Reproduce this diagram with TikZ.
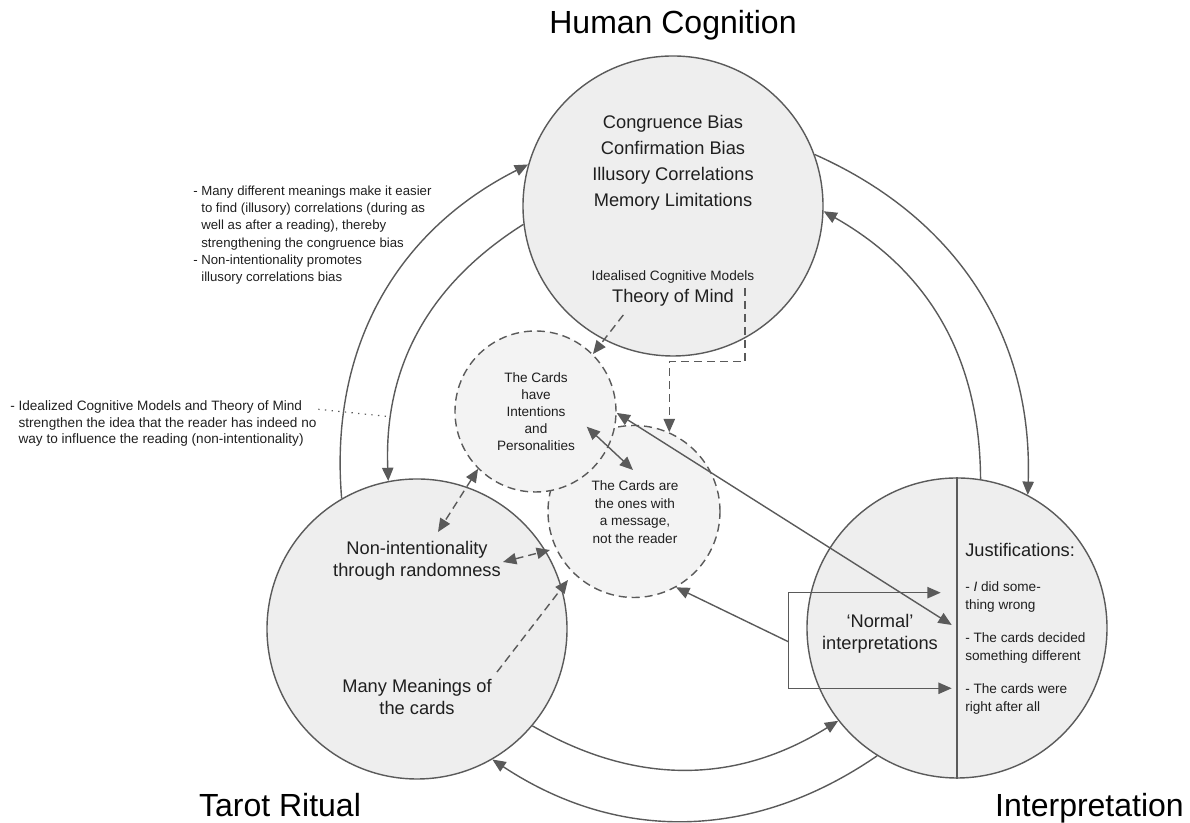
\documentclass[tikz,border=0pt]{standalone}
\usepackage{fontspec}
\setmainfont{Liberation Sans}
\usetikzlibrary{arrows.meta}
\definecolor{ln}{HTML}{5A5A5A}
\definecolor{tx}{HTML}{1F1F1F}
\definecolor{fillA}{HTML}{EEEEEE}
\definecolor{fillB}{HTML}{F3F3F3}
\begin{document}
\begin{tikzpicture}[x=0.75pt,y=0.75pt,
  bigc/.style={circle, draw=ln, fill=fillA, line width=1.05pt, minimum size=225pt, inner sep=0pt},
  dashc/.style={circle, draw=ln, fill=fillB, line width=1.05pt, dash pattern=on 6pt off 3.75pt, inner sep=0pt},
  tipA/.tip={Triangle[length=10pt,width=8.5pt]},
  conn/.style={draw=ln, line width=1.05pt, -tipA},
  dconn/.style={conn, dash pattern=on 6pt off 3.75pt},
  bi/.style={draw=ln, line width=1.05pt, tipA-tipA},
  dbi/.style={bi, dash pattern=on 6pt off 3.75pt},
  title/.style={font=\fontsize{24}{28}\selectfont, text=black, inner sep=0pt, text height=17.2pt, text depth=0pt},
  med/.style={font=\fontsize{13.7}{19.5}\selectfont, text=tx, align=center, inner sep=0pt},
  sm/.style={font=\fontsize{10.2}{12.75}\selectfont, text=tx, align=center, inner sep=0pt},
  note/.style={text=tx, align=left, inner sep=0pt, anchor=west},
]
\useasboundingbox (0,0) rectangle (1190,823);

% main circles
\node[bigc] (hc) at (673,617) {};
\node[bigc] (tr) at (417,194) {};
\node[bigc] (ip) at (957,195) {};
\draw[ln, line width=1.05pt] (ip.north) -- (ip.south);

% dashed circles
\node[dashc, minimum size=129pt] (c2) at (634,311.5) {};
\node[dashc, minimum size=120.75pt] (c1) at (535.5,411.5) {};

% titles
\node[title] (thc) at (673,801) {Human Cognition};
\node[title] (ttr) at (280,18) {Tarot Ritual};
\node[title] (tin) at (1089.5,18) {Interpretation};

% Human cognition contents
\node[med] (hcb) at (673,660) {Congruence Bias\\Confirmation Bias\\Illusory Correlations\\Memory Limitations};
\node[sm] (icm) at (673,546) {Idealised Cognitive Models};
\node[med] (tom) at (673,525) {Theory of Mind};

% dashed circle texts
\node[sm] (c1t) at (536,411) {The Cards\\have\\Intentions\\and\\Personalities};
\node[sm, font=\fontsize{10.2}{13.1}\selectfont] (c2t) at (635,311) {The Cards are\\the ones with\\a message,\\not the reader};

% Tarot contents
\node[med, font=\fontsize{13.7}{16.5}\selectfont] (nint) at (417,262) {Non-intentionality\\through randomness};
\node[med, font=\fontsize{13.7}{16.5}\selectfont] (mm) at (417,126) {Many Meanings of\\the cards};

% Interpretation contents
\node[med, font=\fontsize{13.7}{16.5}\selectfont] (norm) at (880,189) {‘Normal’\\interpretations};
\node[med, anchor=west] (just) at (965,273) {Justifications:};
\node[sm, align=left, anchor=west, font=\fontsize{10.2}{13.5}\selectfont] (j1t) at (965,226) {- \textit{I} did some-\\thing wrong};
\node[sm, align=left, anchor=west, font=\fontsize{10.2}{13.5}\selectfont] (j2t) at (965,175) {- The cards decided\\something different};
\node[sm, align=left, anchor=west, font=\fontsize{10.2}{13.5}\selectfont] (j3t) at (965,124) {- The cards were\\right after all};

% annotations
\node[note, font=\fontsize{9.9}{13}\selectfont] (ann1) at (193,588) {- Many different meanings make it easier\\
\hphantom{- }to find (illusory) correlations (during as\\
\hphantom{- }well as after a reading), thereby\\
\hphantom{- }strengthening the congruence bias\\
- Non-intentionality promotes\\
\hphantom{- }illusory correlations bias};
\node[note, font=\fontsize{10.2}{12.4}\selectfont] (ann2) at (10,399.3) {- Idealized Cognitive Models and Theory of Mind\\
\hphantom{- }strengthen the idea that the reader has indeed no\\
\hphantom{- }way to influence the reading (non-intentionality)};

% outer cycle arcs
\draw[conn] (tr.120.8) to[bend left=34] (hc.164.7);
\draw[conn] (hc.187.2) to[bend right=30] (tr.101.4);
\draw[conn] (hc.20.1) to[bend left=34] (ip.62.4);
\draw[conn] (ip.81.9) to[bend right=30] (hc.-2.3);
\draw[conn] (tr.-40) to[bend right=31] (ip.218.6);
\draw[conn] (ip.238.2) to[bend left=34] (tr.-60);

% inner connectors
\coordinate (t0) at (623.3,508);
\draw[dconn] (t0) -- (c1.45.5);
\coordinate (e0) at (745,535);
\coordinate (e1) at (745,461.3);
\draw[dconn] (e0) -- (e1) -| (c2.66.7);

\coordinate (k1) at (586.7,396.3);
\coordinate (k2) at (633,353);
\draw[bi] (k1) -- (k2);
\coordinate (k3) at (438,291);
\draw[dbi] (c1.225) -- (k3);
\coordinate (k4) at (503,261);
\coordinate (k5) at (550,273);
\draw[dbi] (k4) -- (k5);
\coordinate (k6) at (497,151);
\coordinate (k7) at (568,243);
\draw[dconn] (k6) -- (k7);
\coordinate (k8) at (951.7,198);
\draw[bi] (c1.-1) -- (k8);

\coordinate (jt) at (940.7,230.3);
\coordinate (bx) at (788.3,181.3);
\coordinate (jb) at (951.7,134.7);
\draw[bi] (jt) -| (bx) |- (jb);
\draw[conn] (bx) -- (c2.-61);

% dotted pointer
\coordinate (d0) at (318.3,413.7);
\coordinate (d1) at (390,406.3);
\draw[ln, line width=0.9pt, dash pattern=on 1pt off 4pt] (d0) -- (d1);
\end{tikzpicture}
\end{document}
